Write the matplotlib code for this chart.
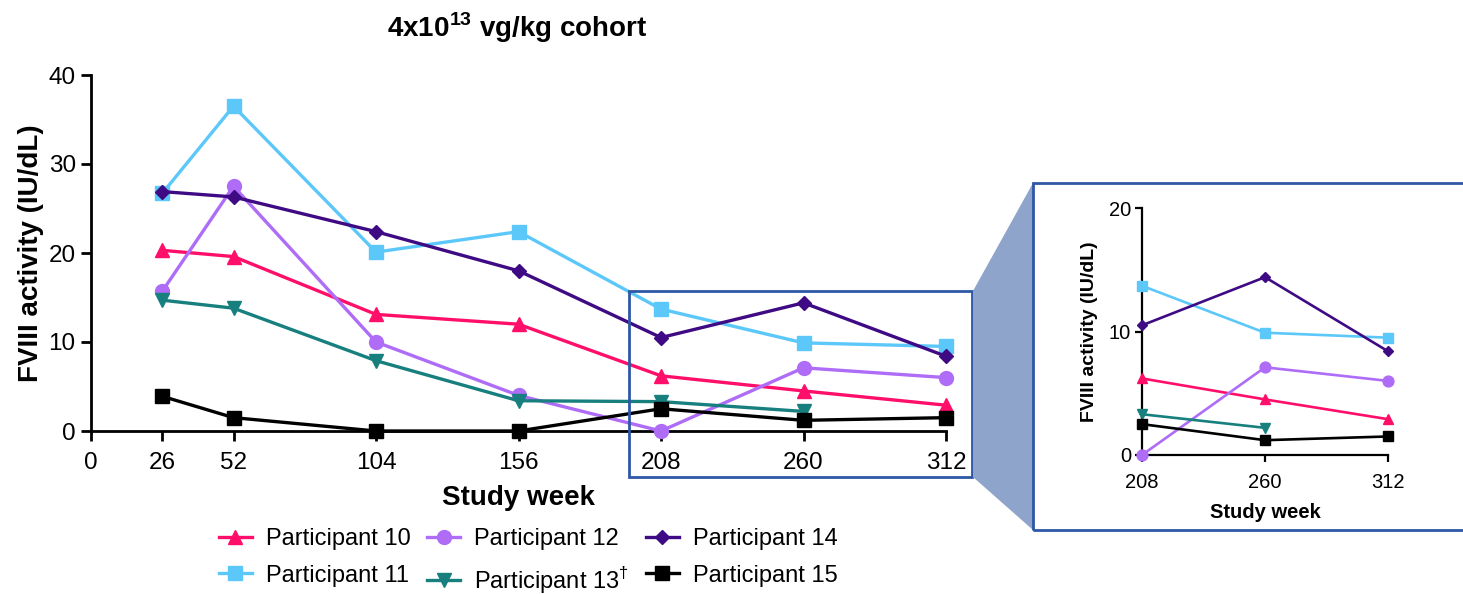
import numpy as np
import matplotlib
matplotlib.use("Agg")
import matplotlib.pyplot as plt
from matplotlib.patches import Rectangle, Polygon

plt.rcParams['font.family'] = ['Liberation Sans', 'DejaVu Sans']
plt.rcParams['mathtext.fontset'] = 'custom'
plt.rcParams['mathtext.rm'] = 'Liberation Sans'
plt.rcParams['mathtext.bf'] = 'Liberation Sans:bold'

# study weeks and FVIII activity (IU/dL) per participant
weeks = [26, 52, 104, 156, 208, 260, 312]
p10 = [20.3, 19.6, 13.1, 12.0, 6.2, 4.5, 2.9]
p11 = [26.7, 36.5, 20.1, 22.4, 13.7, 9.9, 9.5]
p12 = [15.7, 27.5, 10.0, 4.0, 0.0, 7.1, 6.0]
p13 = [14.7, 13.8, 7.9, 3.4, 3.3, 2.2, np.nan]
p14 = [26.9, 26.3, 22.4, 18.0, 10.5, 14.4, 8.4]
p15 = [3.9, 1.5, 0.0, 0.0, 2.5, 1.2, 1.5]

labels = ['Participant 10', 'Participant 11', 'Participant 12',
          r'Participant 13$^{\dagger}$', 'Participant 14', 'Participant 15']
series = [p10, p11, p12, p13, p14, p15]
colors = ['#FF0F6A', '#5CC8FA', '#AE6CF7', '#17807E', '#3F0B84', '#000000']
markers = ['^', 's', 'o', 'v', 'D', 's']
msizes = [10, 10, 10, 10, 7, 10]

W, H = 1463, 594
fig = plt.figure(figsize=(W / 100, H / 100), dpi=100)

def frac(x0, y0, x1, y1):
    # pixel box -> figure fraction [left, bottom, width, height]
    return [x0 / W, 1 - y1 / H, (x1 - x0) / W, (y1 - y0) / H]

# main panel
ax = fig.add_axes(frac(91, 75, 946, 431))
handles = []
for y, c, m, ms, lab in zip(series, colors, markers, msizes, labels):
    h, = ax.plot(weeks, y, color=c, marker=m, ms=ms, lw=2.4, label=lab,
                 clip_on=False, zorder=3)
    handles.append(h)
ax.set_xlim(0, 312)
ax.set_ylim(0, 40)
ax.set_xticks([0, 26, 52, 104, 156, 208, 260, 312])
ax.set_yticks([0, 10, 20, 30, 40])
for s in ['top', 'right']:
    ax.spines[s].set_visible(False)
for s in ['left', 'bottom']:
    ax.spines[s].set_linewidth(2)
ax.tick_params(width=2, length=7, labelsize=17.5)
ax.tick_params(axis='x', pad=8)
ax.tick_params(axis='y', pad=4)
ax.set_xlabel('Study week', fontsize=20, fontweight='bold', labelpad=8)
ax.set_ylabel('FVIII activity (IU/dL)', fontsize=20, fontweight='bold', labelpad=3)

fig.text(517 / W, 1 - 28 / H, r'4x10$^{\mathbf{13}}$ vg/kg cohort',
         fontsize=20, fontweight='bold', ha='center', va='center')

# zoom box, connector and inset frame
box_col = '#2E57A6'
fig.patches.append(Rectangle((629 / W, 1 - 477 / H), (972 - 629) / W, (477 - 291) / H,
                             transform=fig.transFigure, fill=False,
                             edgecolor=box_col, lw=2, zorder=1))
fig.patches.append(Polygon([(973 / W, 1 - 291 / H), (1033 / W, 1 - 183 / H),
                            (1033 / W, 1 - 530 / H), (973 / W, 1 - 477 / H)],
                           closed=True, transform=fig.transFigure,
                           facecolor='#8FA4CB', edgecolor='none', zorder=1))
fig.patches.append(Rectangle((1033 / W, 1 - 530 / H), (1475 - 1033) / W, (530 - 183) / H,
                             transform=fig.transFigure, fill=False,
                             edgecolor=box_col, lw=2, zorder=1))

# inset panel, weeks 208-312
ax2 = fig.add_axes(frac(1142, 208, 1388, 455))
for y, c, m, ms in zip(series, colors, markers, msizes):
    ax2.plot(weeks[4:], y[4:], color=c, marker=m, ms=ms * 0.78, lw=1.9,
             clip_on=False, zorder=3)
ax2.set_xlim(208, 312)
ax2.set_ylim(0, 20)
ax2.set_xticks([208, 260, 312])
ax2.set_yticks([0, 10, 20])
for s in ['top', 'right']:
    ax2.spines[s].set_visible(False)
for s in ['left', 'bottom']:
    ax2.spines[s].set_linewidth(1.6)
ax2.tick_params(width=1.6, length=5, labelsize=14.5)
ax2.tick_params(axis='x', pad=8)
ax2.tick_params(axis='y', pad=3)
ax2.set_xlabel('Study week', fontsize=14.5, fontweight='bold', labelpad=8)
ax2.set_ylabel('FVIII activity (IU/dL)', fontsize=14, fontweight='bold', labelpad=8)

fig.legend(handles=handles, loc='center', bbox_to_anchor=(528 / W, 1 - 562 / H),
           ncol=3, frameon=False, fontsize=17, handlelength=1.4,
           handletextpad=0.6, columnspacing=0.7, labelspacing=0.6,
           borderaxespad=0, borderpad=0)

fig.savefig('out.png', dpi=100)
